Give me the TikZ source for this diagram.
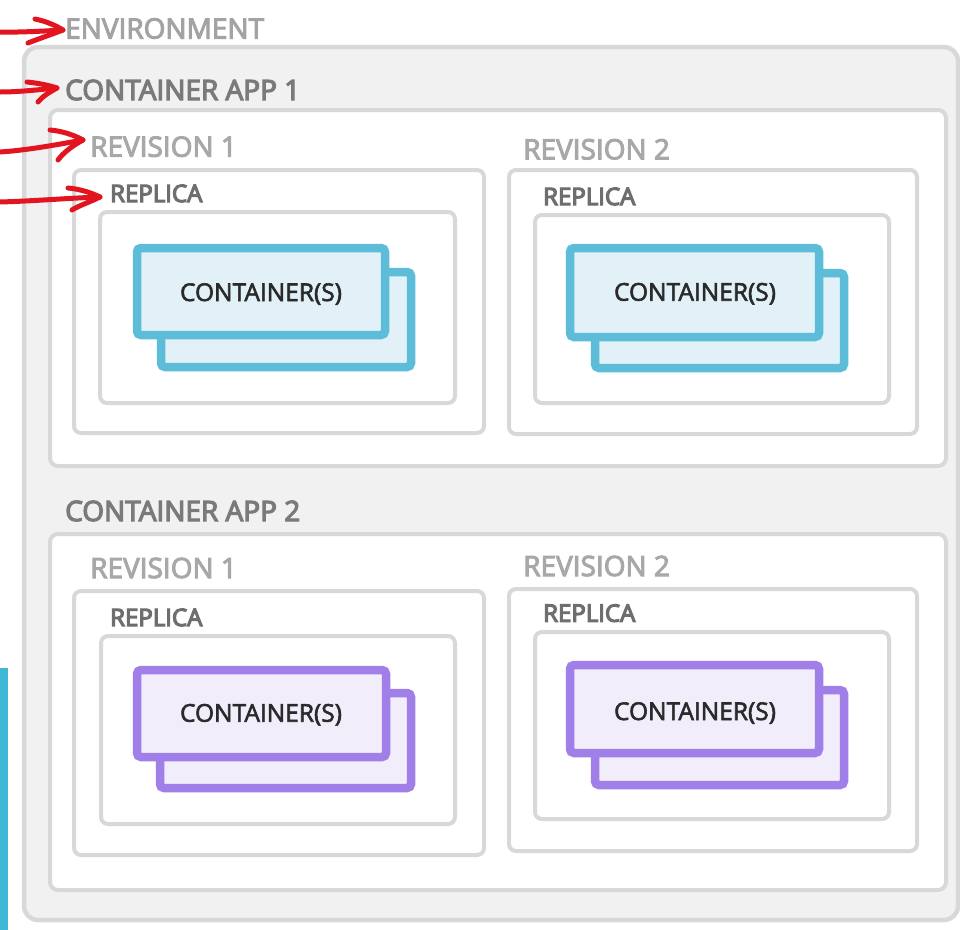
\documentclass[tikz,border=0pt]{standalone}
\usepackage{fontspec}
\setmainfont{Open Sans}
\newcommand{\heavytxt}[2]{\special{pdf:literal direct 2 Tr #1 w}#2\special{pdf:literal direct 0 Tr}}
\definecolor{envfill}{HTML}{F1F1F1}
\definecolor{boxline}{HTML}{D8D8D8}
\definecolor{cyanline}{HTML}{5DBCD8}
\definecolor{cyanfill}{HTML}{E1F1F7}
\definecolor{purpline}{HTML}{A07FE8}
\definecolor{purpfill}{HTML}{F1EDFB}
\definecolor{arrred}{HTML}{E2141F}
\definecolor{barblue}{HTML}{3EB8D4}
\definecolor{envtxt}{HTML}{A3A3A3}
\definecolor{apptxt}{HTML}{7A7A7A}
\definecolor{revtxt}{HTML}{A8A8A8}
\definecolor{reptxt}{HTML}{6E6E6E}
\definecolor{cardtxt}{HTML}{2A2A2A}
\tikzset{
  envbox/.style={draw=boxline, fill=envfill, line width=4.5bp, rounded corners=14bp},
  appbox/.style={draw=boxline, fill=white, line width=4bp, rounded corners=8bp},
  innerbox/.style={draw=boxline, fill=white, line width=4bp, rounded corners=7bp},
  cyancard/.style={draw=cyanline, fill=cyanfill, line width=8.5bp, rounded corners=4bp},
  purpcard/.style={draw=purpline, fill=purpfill, line width=8.5bp, rounded corners=4bp},
  lbl/.style={anchor=base west, inner sep=0pt, font=\fontsize{28bp}{30bp}\selectfont},
  envlbl/.style={lbl, text=envtxt},
  applbl/.style={lbl, text=apptxt},
  revlbl/.style={lbl, text=revtxt},
  replbl/.style={anchor=base west, inner sep=0pt, text=reptxt, font=\fontsize{24bp}{26bp}\selectfont},
  cardlbl/.style={anchor=base, inner sep=0pt, text=cardtxt, font=\fontsize{24.5bp}{26bp}\selectfont},
  redarrow/.style={draw=arrred, line width=5bp, line cap=round, line join=round}
}
\begin{document}
\begin{tikzpicture}[x=1bp,y=-1bp]
\useasboundingbox (0,0) rectangle (960,930);
% blue bar
\fill[barblue] (0,668) rectangle (8,930);
% environment
\draw[envbox] (24,47) rectangle (958,920);
% container apps
\draw[appbox] (50,110) rectangle (946,466);
\draw[appbox] (50,534) rectangle (946,890);
% revisions
\draw[innerbox] (74,170) rectangle (484,433);
\draw[innerbox] (509,170) rectangle (917,434);
\draw[innerbox] (74,591) rectangle (484,855);
\draw[innerbox] (509,589) rectangle (917,851);
% replicas
\draw[innerbox] (100,212) rectangle (455,403);
\draw[innerbox] (535,215) rectangle (889,403);
\draw[innerbox] (101,636) rectangle (455,824);
\draw[innerbox] (535,632) rectangle (889,819);
% cards app 1
\draw[cyancard] (161,272) rectangle (411,367);
\draw[cyancard] (137,248) rectangle (385,335);
\draw[cyancard] (595,273) rectangle (844,368);
\draw[cyancard] (570,248) rectangle (819,337);
% cards app 2
\draw[purpcard] (160,693) rectangle (411,788);
\draw[purpcard] (137,670) rectangle (386,757);
\draw[purpcard] (595,690) rectangle (844,785);
\draw[purpcard] (570,665) rectangle (819,753);
% labels
\node[envlbl] (env) at (65,38.5) {\heavytxt{1.0}{ENVIRONMENT}};
\node[applbl] (app1) at (65,100) {\heavytxt{1.2}{CONTAINER APP 1}};
\node[applbl] (app2) at (65,521) {\heavytxt{1.2}{CONTAINER APP 2}};
\node[revlbl] (rev11) at (90,156.7) {\heavytxt{1.0}{REVISION 1}};
\node[revlbl] (rev12) at (523,159.3) {\heavytxt{1.0}{REVISION 2}};
\node[revlbl] (rev21) at (90,578) {\heavytxt{1.0}{REVISION 1}};
\node[revlbl] (rev22) at (523,576) {\heavytxt{1.0}{REVISION 2}};
\node[replbl] (rep11) at (110,202) {\heavytxt{1.2}{REPLICA}};
\node[replbl] (rep12) at (543,205) {\heavytxt{1.2}{REPLICA}};
\node[replbl] (rep21) at (110,626) {\heavytxt{1.2}{REPLICA}};
\node[replbl] (rep22) at (543,621.7) {\heavytxt{1.2}{REPLICA}};
\node[cardlbl] (c11) at (261,301) {\heavytxt{0.6}{CONTAINER(S)}};
\node[cardlbl] (c12) at (695,300.7) {\heavytxt{0.6}{CONTAINER(S)}};
\node[cardlbl] (c21) at (261,721.7) {\heavytxt{0.6}{CONTAINER(S)}};
\node[cardlbl] (c22) at (695,720) {\heavytxt{0.6}{CONTAINER(S)}};
% red arrows
\coordinate (a1s) at (0,32);
\coordinate (a1t) at (63,30);
\coordinate (a2s) at (0,92);
\coordinate (a2t) at (57,88);
\coordinate (a3s) at (0,152);
\coordinate (a3t) at (83,140);
\coordinate (a4s) at (0,202);
\coordinate (a4t) at (100,197);
\draw[redarrow] (a1s) .. controls (20,32.5) and (45,31) .. (a1t);
\draw[redarrow] (35,19) .. controls (45,21) and (55,25) .. (a1t) .. controls (50,35) and (38,39) .. (28,43);
\draw[redarrow] (a2s) .. controls (20,92) and (40,89.5) .. (a2t);
\draw[redarrow] (27,82) .. controls (37,83) and (48,85) .. (a2t) .. controls (48,93) and (42,97) .. (38,102);
\draw[redarrow] (a3s) .. controls (30,150) and (60,144) .. (a3t);
\draw[redarrow] (50,130) .. controls (62,131) and (74,135) .. (a3t) .. controls (72,146) and (63,153) .. (58,160);
\draw[redarrow] (a4s) .. controls (35,201) and (70,198) .. (a4t);
\draw[redarrow] (68,188) .. controls (80,189) and (92,193) .. (a4t) .. controls (90,202) and (78,206) .. (72,210);
\end{tikzpicture}
\end{document}
